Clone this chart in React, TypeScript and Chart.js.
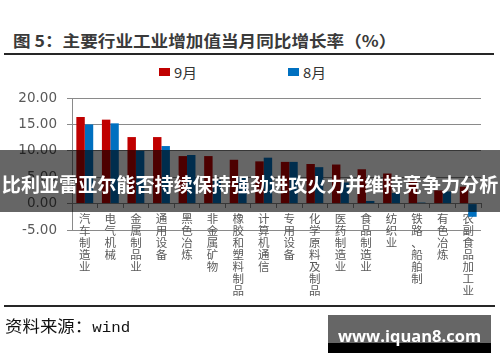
import React, { useEffect, useRef } from 'react';
import { Chart, registerables } from 'chart.js';

Chart.register(...registerables);

const categories = [
  '汽车制造业', '电气机械', '金属制品业', '通用设备', '黑色冶炼', '非金属矿物',
  '橡胶和塑料制品', '计算机通信', '专用设备', '化学原料及制品', '医药制造业',
  '食品制造业', '纺织业', '铁路、船舶制', '有色冶炼', '农副食品加工业',
];
const sepValues = [16.4, 15.9, 12.6, 12.6, 9.0, 9.0, 8.3, 8.0, 7.9, 7.5, 7.4, 6.5, 5.7, 4.1, 2.5, 3.2];
const augValues = [15.0, 15.2, 10.0, 10.9, 9.2, 4.5, 5.0, 8.7, 7.9, 6.9, 4.0, 0.5, 2.0, 0.2, 2.3, -2.5];
const yTickValues = [-5, 0, 5, 10, 15, 20];
const seriesNames = ['9月', '8月'];
const seriesColors = ['#C00000', '#0070C0'];

const titleText = '图 5：主要行业工业增加值当月同比增长率（%）';
const bannerText = '比利亚雷亚尔能否持续保持强劲进攻火力并维持竞争力分析';
const sourceLabel = '资料来源：';
const sourceName = 'wind';
const watermarkText = 'www.iquan8.com';

const CJK = '"Noto Sans CJK SC", "Noto Sans", sans-serif';

export default function App() {
  const canvasRef = useRef<HTMLCanvasElement>(null);

  useEffect(() => {
    if (!canvasRef.current) return;
    const chart = new Chart(canvasRef.current, {
      type: 'bar',
      data: {
        labels: categories.map((c) => Array.from(c)),
        datasets: [
          {
            label: seriesNames[0],
            data: sepValues,
            backgroundColor: seriesColors[0],
            borderWidth: 0,
            categoryPercentage: 0.66,
            barPercentage: 1,
          },
          {
            label: seriesNames[1],
            data: augValues,
            backgroundColor: seriesColors[1],
            borderWidth: 0,
            categoryPercentage: 0.66,
            barPercentage: 1,
          },
        ],
      },
      options: {
        responsive: false,
        animation: false,
        devicePixelRatio: 1,
        layout: { padding: { left: 0, top: 98, right: 19, bottom: 132 } },
        plugins: {
          legend: { display: false },
          title: { display: false },
          tooltip: { enabled: false },
        },
        scales: {
          x: {
            position: { y: 0 },
            grid: {
              offset: true,
              drawOnChartArea: false,
              drawTicks: true,
              tickLength: 4,
              color: '#8a8a8a',
            },
            border: { color: '#8a8a8a' },
            ticks: {
              autoSkip: false,
              maxRotation: 0,
              minRotation: 0,
              padding: 5,
              color: '#5a5a5a',
              font: { family: CJK, size: 11.5, lineHeight: '12px' },
            },
          },
          y: {
            min: -5,
            max: 20,
            afterBuildTicks: (s: any) => {
              s.ticks = yTickValues.map((v) => ({ value: v }));
            },
            afterFit: (s: any) => {
              s.width = 72;
            },
            grid: { color: '#8a8a8a', tickLength: 5 },
            border: { color: '#8a8a8a' },
            ticks: {
              padding: 10,
              color: '#595959',
              font: { family: '"DejaVu Sans", sans-serif', size: 13.5 },
              callback: (v: any) => Number(v).toFixed(2),
            },
          },
        },
      },
    });
    return () => chart.destroy();
  }, []);

  const legendLefts = [159, 288];

  return (
    <div style={{ position: 'absolute', left: 0, top: 0, width: 500, height: 362, background: '#fff', overflow: 'hidden', fontFamily: CJK }}>
      <div
        style={{
          position: 'absolute', left: 13, top: 31.5, fontSize: 16, lineHeight: '16px',
          fontWeight: 'bold', color: '#3a3a3a', whiteSpace: 'nowrap',
          transform: 'scaleX(1.1)', transformOrigin: 'left center',
        }}
      >
        {titleText}
      </div>
      <div style={{ position: 'absolute', left: 4, top: 53, width: 490, height: 2, background: '#262626' }} />

      {seriesNames.map((name, i) => (
        <div key={name} style={{ position: 'absolute', left: legendLefts[i], top: 64, height: 16 }}>
          <div style={{ position: 'absolute', left: 0, top: 4.3, width: 11.4, height: 7.3, background: seriesColors[i] }} />
          <div
            style={{
              position: 'absolute', left: 15, top: 1, fontSize: 13.5, lineHeight: '14px', color: '#333',
              whiteSpace: 'nowrap', transform: 'scaleX(1.1)', transformOrigin: 'left center',
            }}
          >
            {name}
          </div>
        </div>
      ))}

      <canvas ref={canvasRef} width={500} height={362} style={{ position: 'absolute', left: 0, top: 0, width: 500, height: 362 }} />

      <div
        style={{
          position: 'absolute', left: 0, top: 150, width: 500, height: 62,
          background: 'rgba(0,0,0,0.6)',
        }}
      />
      <div
        style={{
          position: 'absolute', left: 0, top: 174.5, width: 500, textAlign: 'center',
          fontSize: 19.1, lineHeight: '19px', fontWeight: 'bold', color: '#fff', whiteSpace: 'nowrap',
        }}
      >
        {bannerText}
      </div>

      <div style={{ position: 'absolute', left: 4, top: 305, width: 491, height: 2, background: '#262626' }} />
      <div
        style={{
          position: 'absolute', left: 5, top: 316.5, fontSize: 16, lineHeight: '16px', color: '#111',
          whiteSpace: 'nowrap', transform: 'scaleX(1.09)', transformOrigin: 'left center',
        }}
      >
        {sourceLabel}
        <span style={{ fontFamily: '"Liberation Mono", monospace', fontSize: 14.5 }}>{sourceName}</span>
      </div>

      <div style={{ position: 'absolute', left: 328, top: 315, width: 163, height: 28, background: '#666' }} />
      <div style={{ position: 'absolute', left: 328, top: 343, width: 163, height: 10, background: '#000' }} />
      <div
        style={{
          position: 'absolute', left: 328, top: 327.9, width: 163, textAlign: 'center',
          fontFamily: '"Open Sans", sans-serif', fontWeight: 'bold', fontSize: 16.5, lineHeight: '16.5px',
          color: '#fff', whiteSpace: 'nowrap',
        }}
      >
        {watermarkText}
      </div>
    </div>
  );
}
